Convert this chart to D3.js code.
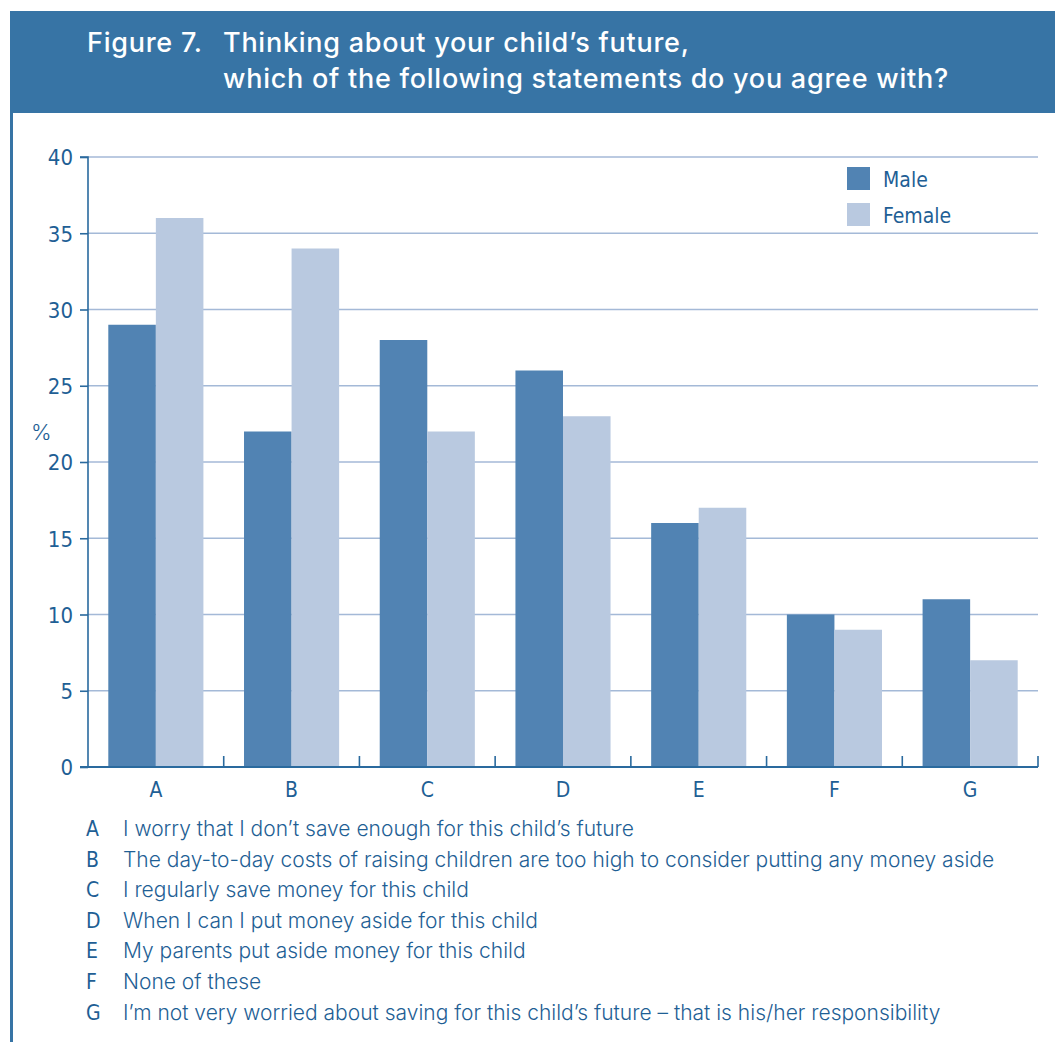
<!DOCTYPE html>
<html>
<head>
<meta charset="utf-8">
<script src="https://cdn.jsdelivr.net/npm/d3@7"></script>
<style>
  html, body { margin: 0; padding: 0; background: #fff; }
  svg { display: block; }
  .narrow { font-family: "Liberation Sans Narrow", "DejaVu Sans Condensed", "Arial Narrow", sans-serif; }
  .body { font-family: Inter, "Liberation Sans", Arial, sans-serif; }
</style>
</head>
<body>
<svg id="chart" width="1055" height="1042"></svg>
<script>
// Survey responses by parent gender (%)
const categories = ["A", "B", "C", "D", "E", "F", "G"];
const male   = [29, 22, 28, 26, 16, 10, 11];
const female = [36, 34, 22, 23, 17, 9, 7];
const seriesNames = ["Male", "Female"];
const yTicks = [0, 5, 10, 15, 20, 25, 30, 35, 40];
const statements = [
  "I worry that I don\u2019t save enough for this child\u2019s future",
  "The day-to-day costs of raising children are too high to consider putting any money aside",
  "I regularly save money for this child",
  "When I can I put money aside for this child",
  "My parents put aside money for this child",
  "None of these",
  "I\u2019m not very worried about saving for this child\u2019s future \u2013 that is his/her responsibility"
];
const figureLabel = "Figure 7.";
const titleLines = [
  "Thinking about your child\u2019s future,",
  "which of the following statements do you agree with?"
];

const colors = { Male: "#5183b3", Female: "#b9c9e0" };
const textColor = "#1f5f95";
const axisColor = "#2a6a9e";
const gridColor = "#a4b9d7";
const headerColor = "#3774a5";

const svg = d3.select("#chart");

// Header banner and left rule
svg.append("rect").attr("x", 10).attr("y", 11).attr("width", 1045).attr("height", 102).attr("fill", headerColor);
svg.append("rect").attr("x", 10).attr("y", 113).attr("width", 3).attr("height", 929).attr("fill", headerColor);

const title = svg.append("g").attr("class", "body").attr("fill", "#fff")
  .style("font-size", "27px").style("font-weight", "500").style("letter-spacing", "0.75px");
title.append("text").attr("x", 87).attr("y", 52).text(figureLabel);
title.append("text").attr("x", 223).attr("y", 52).text(titleLines[0]);
title.append("text").attr("x", 223).attr("y", 88).text(titleLines[1]);

// Scales
const plot = { left: 88, right: 1038, top: 157, bottom: 767 };
const x = d3.scaleBand().domain(categories).range([plot.left, plot.right]).paddingInner(0).paddingOuter(0);
const inner = d3.scaleBand().domain(seriesNames).range([20.3, x.bandwidth() - 20.3]).padding(0);
const y = d3.scaleLinear().domain([0, 40]).range([plot.bottom, plot.top]);

// Gridlines
svg.append("g").selectAll("line").data(yTicks.filter(d => d > 0)).join("line")
  .attr("x1", plot.left).attr("x2", plot.right)
  .attr("y1", d => y(d)).attr("y2", d => y(d))
  .attr("stroke", gridColor).attr("stroke-width", 1.6);

// Bars
const rows = categories.map((c, i) => ({ cat: c, values: [
  { name: "Male", v: male[i] }, { name: "Female", v: female[i] }
]}));
const groups = svg.append("g").selectAll("g").data(rows).join("g")
  .attr("transform", d => `translate(${x(d.cat)},0)`);
groups.selectAll("rect").data(d => d.values).join("rect")
  .attr("x", d => inner(d.name))
  .attr("width", inner.bandwidth())
  .attr("y", d => y(d.v))
  .attr("height", d => y(0) - y(d.v))
  .attr("fill", d => colors[d.name]);

// Y axis
const yAxis = d3.axisLeft(y).tickValues(yTicks).tickSize(8).tickPadding(7);
const yg = svg.append("g").attr("class", "narrow").attr("transform", `translate(${plot.left},0)`).call(yAxis);
yg.attr("font-family", null).attr("font-size", null);
yg.select(".domain").attr("stroke", axisColor).attr("stroke-width", 1.6).attr("d", `M-8,${plot.top}H0V${plot.bottom}`);
yg.selectAll(".tick line").attr("stroke", axisColor).attr("stroke-width", 1.6);
yg.selectAll(".tick text").attr("fill", textColor).style("font-size", "22px").attr("dy", "0.36em");

// X axis: baseline with upward separators between categories
const xg = svg.append("g").attr("class", "narrow");
xg.append("line").attr("x1", plot.left - 8).attr("x2", plot.right)
  .attr("y1", plot.bottom).attr("y2", plot.bottom)
  .attr("stroke", axisColor).attr("stroke-width", 2);
const seps = categories.slice(1).map(c => x(c)).concat([plot.right]);
xg.selectAll("line.sep").data(seps).join("line").attr("class", "sep")
  .attr("x1", d => d).attr("x2", d => d)
  .attr("y1", plot.bottom).attr("y2", plot.bottom - 11)
  .attr("stroke", axisColor).attr("stroke-width", 1.6);
xg.selectAll("text").data(categories).join("text")
  .attr("x", d => x(d) + x.bandwidth() / 2)
  .attr("y", 797)
  .attr("text-anchor", "middle")
  .attr("fill", textColor).style("font-size", "21px")
  .text(d => d);

// Y axis unit label
svg.append("text").attr("class", "body").attr("x", 31).attr("y", 440)
  .attr("fill", textColor).style("font-size", "22px").style("font-weight", "300").text("%");

// Legend
const legend = svg.append("g").attr("transform", "translate(847,167)");
seriesNames.forEach((name, i) => {
  const g = legend.append("g").attr("transform", `translate(0,${i * 36})`);
  g.append("rect").attr("width", 23).attr("height", 23).attr("fill", colors[name]);
  g.append("text").attr("class", "narrow").attr("x", 36).attr("y", 20)
    .attr("fill", textColor).style("font-size", "21px").text(name);
});

// Statement key
const key = svg.append("g");
const keyRows = key.selectAll("g").data(categories).join("g")
  .attr("transform", (d, i) => `translate(0,${836 + i * 30.6})`);
keyRows.append("text").attr("class", "narrow").attr("x", 86)
  .attr("fill", textColor).style("font-size", "21px").text(d => d);
keyRows.append("text").attr("class", "body").attr("x", 123)
  .attr("fill", textColor).style("font-size", "21px").style("font-weight", "300")
  .text((d, i) => statements[i]);
</script>
</body>
</html>
